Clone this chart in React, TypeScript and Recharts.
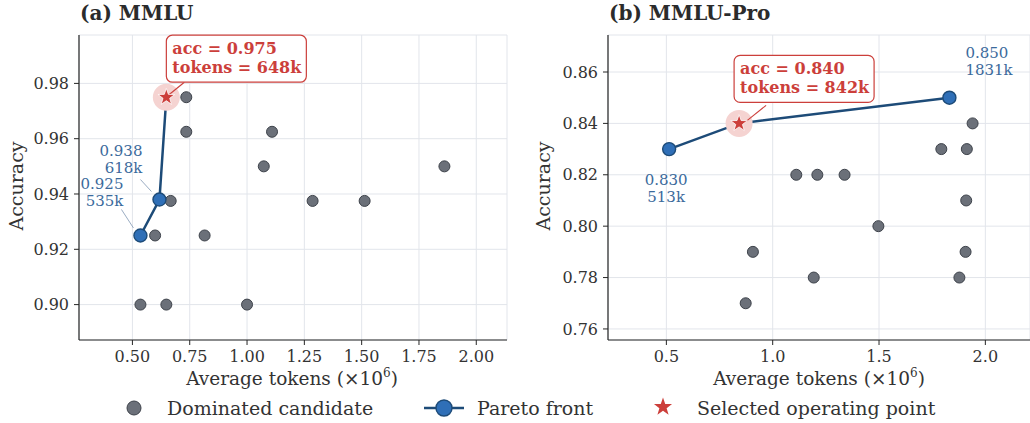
import { ScatterChart, Scatter, XAxis, YAxis, CartesianGrid } from "recharts";

const FONT = '"DejaVu Serif", "Liberation Serif", serif';
const TEXT = "#333333";
const GRID = "#e2e5eb";
const AXIS = "#262626";
const GRAY_FILL = "#6b7079";
const GRAY_EDGE = "#3d424a";
const BLUE_FILL = "#2f6fb7";
const BLUE_EDGE = "#1d4b78";
const BLUE_TEXT = "#3b6a9c";
const RED = "#cc3f3b";
const HALO = "#f5d3d1";

// (a) MMLU
const mmluDomTokens = [0.735, 0.735, 1.109, 1.073, 1.861, 0.667, 1.286, 1.513, 0.599, 0.815, 0.535, 0.648, 1.0];
const mmluDomAcc = [0.975, 0.9625, 0.9625, 0.95, 0.95, 0.9375, 0.9375, 0.9375, 0.925, 0.925, 0.9, 0.9, 0.9];
const mmluParetoTokens = [0.535, 0.618, 0.648];
const mmluParetoAcc = [0.925, 0.938, 0.975];
const mmluSelected = 2; // index into the pareto arrays
const mmluXTicks = [0.5, 0.75, 1.0, 1.25, 1.5, 1.75, 2.0];
const mmluYTicks = [0.9, 0.92, 0.94, 0.96, 0.98];

// (b) MMLU-Pro
const proDomTokens = [1.94, 1.793, 1.913, 1.111, 1.21, 1.338, 1.91, 1.497, 0.907, 1.907, 1.193, 1.878, 0.873];
const proDomAcc = [0.84, 0.83, 0.83, 0.82, 0.82, 0.82, 0.81, 0.8, 0.79, 0.79, 0.78, 0.78, 0.77];
const proParetoTokens = [0.513, 0.842, 1.831];
const proParetoAcc = [0.83, 0.84, 0.85];
const proSelected = 1;
const proXTicks = [0.5, 1.0, 1.5, 2.0];
const proYTicks = [0.76, 0.78, 0.8, 0.82, 0.84, 0.86];

type Row = { x: number; y: number; i: number };
type LabelPlace = { dx: number; dy: number; anchor: "start" | "middle" | "end"; leader?: number[] };

const rows = (xs: number[], ys: number[]): Row[] => xs.map((x, i) => ({ x, y: ys[i], i }));

function starPoints(cx: number, cy: number, R: number) {
  const r = R * 0.4;
  const pts: string[] = [];
  for (let k = 0; k < 10; k++) {
    const a = -Math.PI / 2 + (k * Math.PI) / 5;
    const rad = k % 2 ? r : R;
    pts.push(`${cx + rad * Math.cos(a)},${cy + rad * Math.sin(a)}`);
  }
  return pts.join(" ");
}

type PanelProps = {
  left: number;
  width: number;
  margin: { left: number; right: number };
  xDomain: [number, number];
  yDomain: [number, number];
  xTicks: number[];
  yTicks: number[];
  xDigits: number;
  dominated: Row[];
  pareto: Row[];
  selected: number;
  labels: Record<number, LabelPlace>;
  box: { dx: number; dy: number; arrow: number[] };
};

function Panel(p: PanelProps) {
  const sel = p.pareto[p.selected];
  const tick = { fill: TEXT, fontSize: 16, fontFamily: FONT };

  const paretoShape = (props: any) => {
    const { cx, cy, payload } = props;
    if (payload.i === p.selected) return <g />;
    const lab = p.labels[payload.i];
    return (
      <g>
        {lab && lab.leader && (
          <line
            x1={cx + lab.leader[0]}
            y1={cy + lab.leader[1]}
            x2={cx + lab.leader[2]}
            y2={cy + lab.leader[3]}
            stroke="#8ea3bb"
            strokeWidth={0.9}
          />
        )}
        <circle cx={cx} cy={cy} r={6.5} fill={BLUE_FILL} stroke={BLUE_EDGE} strokeWidth={1.4} />
        {lab && (
          <text x={cx + lab.dx} y={cy + lab.dy} textAnchor={lab.anchor} fontFamily={FONT} fontSize={15} fill={BLUE_TEXT}>
            <tspan x={cx + lab.dx}>{payload.y.toFixed(3)}</tspan>
            <tspan x={cx + lab.dx} dy={17}>{Math.round(payload.x * 1000)}k</tspan>
          </text>
        )}
      </g>
    );
  };

  const selectedShape = (props: any) => {
    const { cx, cy, payload } = props;
    const bx = cx + p.box.dx;
    const by = cy + p.box.dy;
    const a = p.box.arrow;
    return (
      <g>
        <circle cx={cx} cy={cy} r={13.5} fill={HALO} />
        <line x1={cx + a[0]} y1={cy + a[1]} x2={cx + a[2]} y2={cy + a[3]} stroke={RED} strokeWidth={1.1} />
        <polygon points={starPoints(cx, cy, 8.8)} fill={RED} stroke="#ffffff" strokeWidth={0.8} />
        <rect x={bx} y={by} width={140} height={47} rx={6} fill="#ffffff" stroke={RED} strokeWidth={1.2} />
        <text x={bx + 6} y={by + 19} fontFamily={FONT} fontSize={16} fontWeight="bold" fill={RED}>
          <tspan x={bx + 6}>acc = {payload.y.toFixed(3)}</tspan>
          <tspan x={bx + 6} dy={18.5}>tokens = {Math.round(payload.x * 1000)}k</tspan>
        </text>
      </g>
    );
  };

  return (
    <div style={{ position: "absolute", left: p.left, top: 0 }}>
      <ScatterChart width={p.width} height={423} margin={{ top: 35, right: p.margin.right, bottom: 0, left: p.margin.left }}>
        <CartesianGrid stroke={GRID} strokeWidth={1} />
        <XAxis
          type="number"
          dataKey="x"
          domain={p.xDomain}
          ticks={p.xTicks}
          tickFormatter={(v: number) => v.toFixed(p.xDigits)}
          height={83}
          tick={tick}
          tickSize={5}
          tickMargin={6}
          axisLine={{ stroke: AXIS, strokeWidth: 1.2 }}
          tickLine={{ stroke: AXIS }}
        />
        <YAxis
          type="number"
          dataKey="y"
          domain={p.yDomain}
          ticks={p.yTicks}
          tickFormatter={(v: number) => v.toFixed(2)}
          width={60}
          tick={tick}
          tickSize={5}
          tickMargin={5}
          axisLine={{ stroke: AXIS, strokeWidth: 1.2 }}
          tickLine={{ stroke: AXIS }}
        />
        <Scatter
          data={p.dominated}
          isAnimationActive={false}
          shape={(props: any) => (
            <circle cx={props.cx} cy={props.cy} r={5.5} fill={GRAY_FILL} stroke={GRAY_EDGE} strokeWidth={1} />
          )}
        />
        <Scatter
          data={p.pareto}
          isAnimationActive={false}
          line={{ stroke: BLUE_EDGE, strokeWidth: 2.5 }}
          lineType="joint"
          shape={paretoShape}
        />
        <Scatter data={[sel]} isAnimationActive={false} shape={selectedShape} />
      </ScatterChart>
    </div>
  );
}

function Overlay() {
  const label = { fontFamily: FONT, fontSize: 19, fill: TEXT };
  const title = { fontFamily: FONT, fontSize: 20, fontWeight: "bold" as const, fill: "#2b2b2b" };
  const xLabel = (cx: number) => (
    <text x={cx} y={385} textAnchor="middle" {...label} fontSize={18.5}>
      Average tokens (×10
      <tspan fontSize={12} dy={-8}>6</tspan>
      <tspan dy={8}>)</tspan>
    </text>
  );
  return (
    <svg width={1030} height={423} style={{ position: "absolute", left: 0, top: 0, pointerEvents: "none" }}>
      <text x={80} y={20} {...title}>(a) MMLU</text>
      <text x={609} y={20} {...title}>(b) MMLU-Pro</text>
      <text transform="translate(23,186) rotate(-90)" textAnchor="middle" {...label}>Accuracy</text>
      <text transform="translate(550,186) rotate(-90)" textAnchor="middle" {...label}>Accuracy</text>
      {xLabel(292)}
      {xLabel(819)}
      <circle cx={134} cy={408} r={7} fill={GRAY_FILL} stroke={GRAY_EDGE} strokeWidth={1} />
      <text x={167} y={415} {...label}>Dominated candidate</text>
      <line x1={424} y1={408} x2={464} y2={408} stroke={BLUE_EDGE} strokeWidth={2.5} />
      <circle cx={444} cy={408} r={8} fill={BLUE_FILL} stroke={BLUE_EDGE} strokeWidth={1.4} />
      <text x={477} y={415} {...label}>Pareto front</text>
      <polygon points={starPoints(663, 407, 9.5)} fill={RED} />
      <text x={697} y={415} {...label}>Selected operating point</text>
    </svg>
  );
}

export default function App() {
  return (
    <div style={{ position: "absolute", left: 0, top: 0, width: 1030, height: 423, background: "#ffffff" }}>
      <Panel
        left={0}
        width={520}
        margin={{ left: 19, right: 13 }}
        xDomain={[0.267, 2.134]}
        yDomain={[0.8872, 0.9975]}
        xTicks={mmluXTicks}
        yTicks={mmluYTicks}
        xDigits={2}
        dominated={rows(mmluDomTokens, mmluDomAcc)}
        pareto={rows(mmluParetoTokens, mmluParetoAcc)}
        selected={mmluSelected}
        labels={{
          0: { dx: -17, dy: -46, anchor: "end", leader: [-19, -26, -7, -7.5] },
          1: { dx: -17, dy: -44, anchor: "end", leader: [-19, -20, -8, -8] },
        }}
        box={{ dx: 0, dy: -62, arrow: [18, -15, 2, -2] }}
      />
      <Panel
        left={520}
        width={510}
        margin={{ left: 28, right: 0 }}
        xDomain={[0.2255, 2.21]}
        yDomain={[0.7557, 0.8744]}
        xTicks={proXTicks}
        yTicks={proYTicks}
        xDigits={1}
        dominated={rows(proDomTokens, proDomAcc)}
        pareto={rows(proParetoTokens, proParetoAcc)}
        selected={proSelected}
        labels={{
          0: { dx: -3, dy: 36, anchor: "middle" },
          2: { dx: 16, dy: -40, anchor: "start" },
        }}
        box={{ dx: -5, dy: -68, arrow: [27, -18, 7, -2] }}
      />
      <Overlay />
    </div>
  );
}
